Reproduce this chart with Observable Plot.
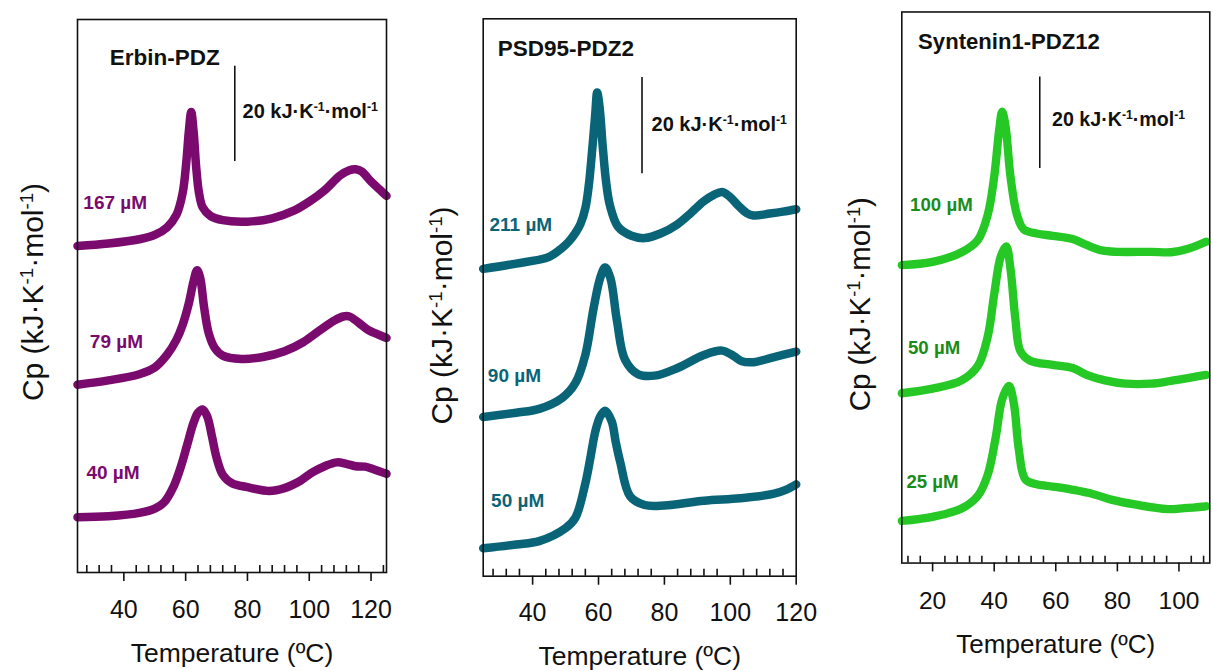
<!DOCTYPE html>
<html><head><meta charset="utf-8">
<script src="https://cdn.jsdelivr.net/npm/d3@7"></script>
<script src="https://cdn.jsdelivr.net/npm/@observablehq/plot@0.6"></script>
<style>
html,body{margin:0;padding:0;background:#fff;overflow:hidden;}
#wrap{position:relative;width:1213px;height:671px;overflow:hidden;background:#fff;}
.panel{position:absolute;top:0;}
</style></head><body><div id="wrap"></div>
<script>
// ---------- Erbin-PDZ ----------
const erbin167T = [25,35,45,50,54,57,59,60.2,61,61.8,62.6,63.4,64.3,65.5,68,72,80,88,95,100,105,110,113,115,117,120,123,125];
const erbin167Cp = [68.5,69.0,69.9,70.8,72.4,75.0,79.5,86.0,92.3,96.6,92.3,85.1,79.7,76.6,74.8,73.9,73.6,74.3,75.9,77.8,80.2,83.3,84.4,84.6,84.1,82.0,80.2,79.0];
const erbin79T = [25,35,45,50,54,57,59,61,62.5,63.7,64.7,66,67.5,69.5,72,78,85,92,98,103,108,111,113,116,119,122,125];
const erbin79Cp = [39.4,40.3,41.6,43.0,45.7,48.8,51.9,56.4,60.9,63.4,61.8,55.5,50.1,47.0,45.5,44.8,45.2,46.4,48.3,50.6,52.8,53.7,53.7,52.4,50.9,50.0,49.2];
const erbin40T = [25,35,45,50,53,56,58.5,60.5,62.5,64,65.5,67,68.5,70,72,75,80,87,92,97,101,105,109,112,115,118,121,125];
const erbin40Cp = [11.6,11.8,12.5,13.4,14.7,17.9,22.3,26.8,31.3,33.5,34.2,32.7,28.6,24.1,20.5,18.7,17.9,17.1,17.7,19.2,21.0,22.3,23.1,22.8,22.3,22.2,21.6,20.7];

// ---------- PSD95-PDZ2 ----------
const psd211T = [25,35,45,49,51,53,54.5,56,57,58,59,59.6,60.4,61.2,62.3,63.5,66,70,74,79,84,88,92,95,97.5,100,102.5,105,107,112,116,120];
const psd211Cp = [63.9,65.0,66.4,68.3,69.6,71.4,73.2,76.5,81,88,96,100.6,97,90,82,77,72.6,70.8,70.3,71.3,73.2,75.5,78.0,79.3,79.9,78.8,77.0,75.5,75.0,75.4,75.8,76.3];
const psd90T = [25,35,42,49,53,56,58.5,60.5,62,63.6,65.6,68,72,77,84,92,97.5,101,103.5,107,113,120];
const psd90Cp = [33.1,34.0,34.8,37.1,40.2,46.0,55.7,62.0,64.2,62.0,53.1,45.1,42.0,41.7,43.3,46.0,46.9,45.8,44.7,44.5,45.5,46.7];
const psd50T = [25,35,42,50,53,56,57.5,59,60.5,62,64,65.2,66.6,69.6,74,80,92,103,113,117,120];
const psd50Cp = [5.8,6.6,7.3,10.0,12.2,19.3,24.5,30.0,33.2,34.4,32.2,28,23.7,16.6,14.8,14.7,15.7,16.2,17.1,18.0,19.1];

// ---------- Syntenin1-PDZ12 ----------
const syn100T = [10,20,29.4,34.7,37.9,40,41.6,42.6,43.7,45.3,47.4,49.6,53.8,59,65.5,70,75,80,91,97.4,102.7,108.8];
const syn100Cp = [65.1,65.8,67.9,70.6,76.1,84.4,94.5,98.6,95.4,84.4,76.1,72.9,72.0,71.5,70.8,69.5,68.3,68.0,68.0,67.9,68.6,70.2];
const syn50T = [10,20,29.4,34.7,37.9,40,42.1,43.9,45.3,46.9,48.5,51.7,59,65.5,70,76,82.5,91,97.4,108.8];
const syn50Cp = [37.1,38.1,39.9,43.1,49.5,58.7,66.9,69.2,64.2,53.2,46.3,44.2,43.3,42.6,41.1,39.9,39.2,39.2,39.8,41.1];
const syn25T = [10,20,29.4,34.7,37.9,40.5,42.6,44.8,46.4,48,50.1,53.8,59,65.5,72,78.3,85.7,96.3,101.7,108.8];
const syn25Cp = [9.2,10.1,11.9,14.7,19.3,27.5,35.8,38.7,34.8,24.8,18.3,17.2,16.7,16.0,15.1,13.8,12.8,11.8,12.0,12.4];

// ---------- text ----------
const panelTitles = ["Erbin-PDZ", "PSD95-PDZ2", "Syntenin1-PDZ12"];
const erbinConc = ["167 µM", "79 µM", "40 µM"];
const psdConc = ["211 µM", "90 µM", "50 µM"];
const synConc = ["100 µM", "50 µM", "25 µM"];
const scaleLabel = "20 kJ·K⁻¹·mol⁻¹";
const yLabel = "Cp (kJ·K⁻¹·mol⁻¹)";
const xLabel = "Temperature (ºC)";
const majorTicks13 = [40, 60, 80, 100, 120];
const majorTicks3 = [20, 40, 60, 80, 100];

const FONT = "'Liberation Sans', Arial, Helvetica, sans-serif";
const INK = "#111";

function series(name, T, Cp) { return T.map((t, i) => ({T: t, Cp: Cp[i], conc: name})); }
function minorTicks(lo, hi, majors) { const r = []; for (let v = lo; v <= hi; v += 4) if (!majors.includes(v)) r.push(v); return r; }

function panel(cfg) {
  const H = 671;
  const plotH = H - cfg.mt - cfg.mb;
  const curves = cfg.series.flatMap(s => series(...s));
  const p = Plot.plot({
    width: cfg.width, height: H,
    marginLeft: cfg.ml, marginRight: cfg.mr, marginTop: cfg.mt, marginBottom: cfg.mb,
    style: {fontFamily: FONT, background: "transparent", overflow: "visible", color: INK},
    x: {domain: cfg.xDomain},
    y: {domain: cfg.yDomain, axis: null},
    marks: [
      Plot.line(curves, {x: "T", y: "Cp", z: "conc", stroke: cfg.color, strokeWidth: 8.5,
        curve: "catmull-rom", strokeLinecap: "round", strokeLinejoin: "round"}),
      Plot.frame({stroke: INK, strokeWidth: 1.6}),
      Plot.axisX({ticks: cfg.major, tickSize: 9, tickPadding: cfg.tickPad, fontSize: 25,
        label: null, stroke: INK, fill: INK, strokeWidth: 1.6, tickFormat: d => String(d)}),
      Plot.tickX(minorTicks(cfg.minorFrom, cfg.xDomain[1], cfg.major), {x: d => d, insetTop: plotH - 7, stroke: INK, strokeWidth: 1.6}),
      Plot.ruleX([cfg.bar], {x: "x", y1: "y1", y2: "y2", stroke: INK, strokeWidth: 1.6}),
      Plot.text([cfg.scale], {x: "x", y: "y", text: () => scaleLabel, textAnchor: "start", lineAnchor: "middle",
        fontWeight: "bold", fontSize: 20, fill: INK}),
      Plot.text([cfg.title], {x: "x", y: "y", text: "text", textAnchor: "start", lineAnchor: "middle",
        fontWeight: "bold", fontSize: 22.5, fill: INK}),
      Plot.text(cfg.labels, {x: "x", y: "y", text: "text", textAnchor: "start", lineAnchor: "middle",
        fontWeight: "bold", fontSize: 19, fill: cfg.labelColor}),
      Plot.text([yLabel], {frameAnchor: "left", rotate: -90, textAnchor: "middle", lineAnchor: "middle",
        dx: cfg.ydx, dy: cfg.ydy, fontSize: 30, fill: INK}),
      Plot.text([xLabel], {frameAnchor: "bottom", textAnchor: "middle", lineAnchor: "middle",
        dy: cfg.xdy, fontSize: 26.5, fill: INK})
    ]
  });
  const div = document.createElement("div");
  div.className = "panel";
  div.style.left = cfg.left + "px";
  div.appendChild(p);
  document.getElementById("wrap").appendChild(div);
  p.querySelectorAll('g[aria-label="x-axis tick label"]').forEach(g => { g.style.fontSize = "25px"; });
  // superscripts
  p.querySelectorAll("text").forEach(t => {
    if (t.textContent.includes("⁻¹") && t.children.length === 0) {
      const parts = t.textContent.split("⁻¹");
      t.textContent = "";
      parts.forEach((s, i) => {
        t.appendChild(document.createTextNode(s));
        if (i < parts.length - 1) {
          const ts = document.createElementNS("http://www.w3.org/2000/svg", "tspan");
          ts.setAttribute("baseline-shift", "super");
          ts.setAttribute("font-size", "0.62em");
          ts.textContent = "-1";
          t.appendChild(ts);
        }
      });
    }
  });
}

panel({
  left: 0, width: 404, ml: 77, mr: 18, mt: 19, mb: 99,
  xDomain: [25, 125], yDomain: [0, 116], major: majorTicks13, minorFrom: 28, tickPad: 18.5,
  color: "#7b0a6f", labelColor: "#7b0a6f",
  series: [["167", erbin167T, erbin167Cp], ["79", erbin79T, erbin79Cp], ["40", erbin40T, erbin40Cp]],
  bar: {x: 75.9, y1: 86.2, y2: 106.2}, scale: {x: 78.4, y: 96.7},
  title: {x: 35.4, y: 107.9, text: panelTitles[0]},
  labels: [{x: 26.9, y: 77.5, text: erbinConc[0]}, {x: 29.0, y: 48.4, text: erbinConc[1]}, {x: 27.9, y: 20.8, text: erbinConc[2]}],
  ydx: -43.7, ydy: -4, xdy: 80.7
});
panel({
  left: 404, width: 420, ml: 78.7, mr: 28.3, mt: 18.3, mb: 95.3,
  xDomain: [25, 120], yDomain: [0, 115.9], major: majorTicks13, minorFrom: 28, tickPad: 18.5,
  color: "#0a6478", labelColor: "#0a6478",
  series: [["211", psd211T, psd211Cp], ["90", psd90T, psd90Cp], ["50", psd50T, psd50Cp]],
  bar: {x: 73.2, y1: 83.7, y2: 103.7}, scale: {x: 76.1, y: 93.9},
  title: {x: 29.4, y: 109.7, text: panelTitles[1]},
  labels: [{x: 26.9, y: 73.0, text: psdConc[0]}, {x: 26.4, y: 41.7, text: psdConc[1]}, {x: 27.4, y: 15.7, text: psdConc[2]}],
  ydx: -40.4, ydy: 18, xdy: 80.5
});
panel({
  left: 824, width: 396, ml: 78.7, mr: 3.8, mt: 11.7, mb: 98.3,
  xDomain: [10, 110], yDomain: [0, 120.4], major: majorTicks3, minorFrom: 12, tickPad: 20,
  color: "#26c826", labelColor: "#1a8c1a",
  series: [["100", syn100T, syn100Cp], ["50", syn50T, syn50Cp], ["25", syn25T, syn25Cp]],
  bar: {x: 54.8, y1: 86.2, y2: 106.2}, scale: {x: 58.8, y: 96.8},
  title: {x: 15.3, y: 113.9, text: panelTitles[2]},
  labels: [{x: 12.7, y: 78.2, text: synConc[0]}, {x: 12.0, y: 47.0, text: synConc[1]}, {x: 11.5, y: 17.6, text: synConc[2]}],
  ydx: -42, ydy: 17, xdy: 83
});
</script></body></html>
